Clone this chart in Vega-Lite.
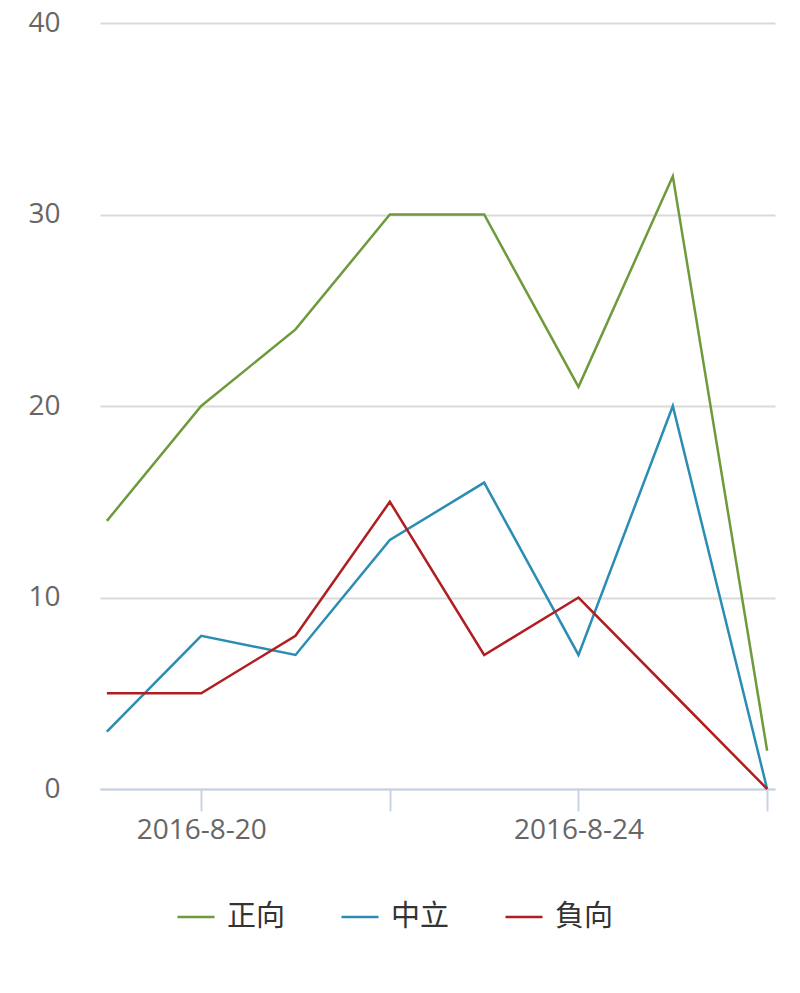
{
  "$schema": "https://vega.github.io/schema/vega-lite/v6.json",
  "width": 675,
  "height": 766,
  "autosize": "none",
  "padding": {"left": 100, "top": 23, "right": 25, "bottom": 204},
  "background": "white",
  "data": {
    "values": [
      {"date": "2016-08-19", "series": "正向", "value": 14},
      {"date": "2016-08-20", "series": "正向", "value": 20},
      {"date": "2016-08-21", "series": "正向", "value": 24},
      {"date": "2016-08-22", "series": "正向", "value": 30},
      {"date": "2016-08-23", "series": "正向", "value": 30},
      {"date": "2016-08-24", "series": "正向", "value": 21},
      {"date": "2016-08-25", "series": "正向", "value": 32},
      {"date": "2016-08-26", "series": "正向", "value": 2},
      {"date": "2016-08-19", "series": "中立", "value": 3},
      {"date": "2016-08-20", "series": "中立", "value": 8},
      {"date": "2016-08-21", "series": "中立", "value": 7},
      {"date": "2016-08-22", "series": "中立", "value": 13},
      {"date": "2016-08-23", "series": "中立", "value": 16},
      {"date": "2016-08-24", "series": "中立", "value": 7},
      {"date": "2016-08-25", "series": "中立", "value": 20},
      {"date": "2016-08-26", "series": "中立", "value": 0},
      {"date": "2016-08-19", "series": "負向", "value": 5},
      {"date": "2016-08-20", "series": "負向", "value": 5},
      {"date": "2016-08-21", "series": "負向", "value": 8},
      {"date": "2016-08-22", "series": "負向", "value": 15},
      {"date": "2016-08-23", "series": "負向", "value": 7},
      {"date": "2016-08-24", "series": "負向", "value": 10},
      {"date": "2016-08-25", "series": "負向", "value": 5},
      {"date": "2016-08-26", "series": "負向", "value": 0}
    ]
  },
  "mark": {"type": "line", "strokeWidth": 2.5},
  "encoding": {
    "x": {
      "field": "date",
      "type": "temporal",
      "scale": {
        "type": "utc",
        "domain": [
          {"year": 2016, "month": 8, "date": 18, "hours": 22, "minutes": 15, "utc": true},
          {"year": 2016, "month": 8, "date": 26, "hours": 2, "utc": true}
        ]
      },
      "axis": {
        "title": null,
        "grid": false,
        "values": [
          {"year": 2016, "month": 8, "date": 20, "utc": true},
          {"year": 2016, "month": 8, "date": 22, "utc": true},
          {"year": 2016, "month": 8, "date": 24, "utc": true},
          {"year": 2016, "month": 8, "date": 26, "utc": true}
        ],
        "labelExpr": "utcdate(datum.value) % 4 == 0 ? utcFormat(datum.value, '%Y-%-m-%-d') : ''",
        "domainColor": "#c8d4e6",
        "domainWidth": 2,
        "tickColor": "#c8d4e6",
        "tickWidth": 2,
        "tickSize": 22,
        "labelPadding": 5,
        "labelFont": "Open Sans",
        "labelFontSize": 28,
        "labelColor": "#666666"
      }
    },
    "y": {
      "field": "value",
      "type": "quantitative",
      "scale": {"domain": [0, 40]},
      "axis": {
        "title": null,
        "values": [0, 10, 20, 30, 40],
        "domain": false,
        "ticks": false,
        "labelPadding": 40,
        "labelFont": "Open Sans",
        "labelFontSize": 28,
        "labelColor": "#666666",
        "gridColor": "#dadada",
        "gridWidth": 2
      }
    },
    "color": {
      "field": "series",
      "type": "nominal",
      "scale": {
        "domain": ["正向", "中立", "負向"],
        "range": ["#6e9a3c", "#2b8db3", "#b01e22"]
      },
      "legend": {
        "title": null,
        "orient": "none",
        "direction": "horizontal",
        "legendX": 76,
        "legendY": 874,
        "symbolType": "stroke",
        "symbolSize": 1369,
        "symbolStrokeWidth": 2.5,
        "labelFont": "Noto Sans CJK TC",
        "labelFontSize": 29,
        "labelFontWeight": "normal",
        "labelColor": "#333333",
        "labelOffset": 11,
        "columnPadding": 50
      }
    }
  },
  "config": {"view": {"stroke": null}}
}
